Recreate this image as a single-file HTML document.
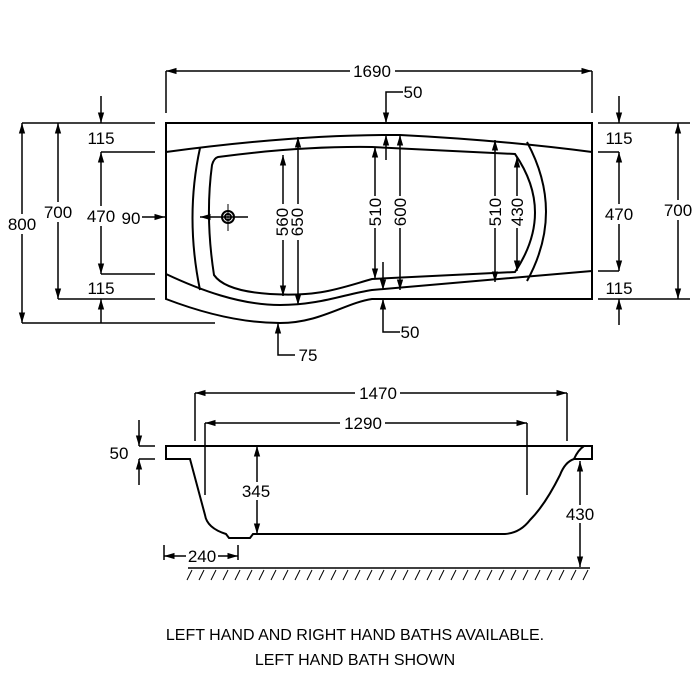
<!DOCTYPE html><html><head><style>body{margin:0;background:#fff}svg{display:block}</style></head><body>
<svg width="700" height="700" viewBox="0 0 700 700" xmlns="http://www.w3.org/2000/svg" font-family="Liberation Sans, sans-serif" font-size="17" fill="none" stroke="#000" stroke-width="2">
<defs><marker id="a" viewBox="0 0 10 10" refX="10" refY="5" markerWidth="7" markerHeight="7" orient="auto-start-reverse"><path d="M0,2 L10,5 L0,8z" fill="#000" stroke="none"/></marker></defs>
<!-- top view outline -->
<path d="M166,123 H592 V299 H372 C345,303 320,323 280,323 C240,323 200,312 166,299 Z"/>
<path d="M166,152 Q300,134 400,135 Q500,140 592,152"/>
<path d="M166,274 C200,290 240,305 280,305 C320,305 345,294 372,290 L592,271"/>
<path d="M218,157 Q300,146 372,147 L515,154 Q555,212 515,272 L372,279 C340,288 320,297 270,294 Q225,291 214,275 Q205,217 212,165 Q214,158 218,157 Z"/>
<path d="M200,148 Q185,217 200,290"/>
<path d="M527,142 Q565,212 527,281"/>
<circle cx="228" cy="217" r="6"/><circle cx="228" cy="217" r="3"/>
<path d="M228,204 V231 M215,217 H248" stroke-width="1"/>
<g stroke-width="1.5">
<path d="M166,113 V71 M592,113 V71"/><path d="M166,71 H592" marker-start="url(#a)" marker-end="url(#a)"/>
<path d="M22,123 H155 M22,323 H215 M58,299 H155 M101,152 H155 M101,274 H155"/>
<path d="M22,123 V323" marker-start="url(#a)" marker-end="url(#a)"/>
<path d="M58,123 V299" marker-start="url(#a)" marker-end="url(#a)"/>
<path d="M101,152 V274" marker-start="url(#a)" marker-end="url(#a)"/>
<path d="M101,96 V123" marker-end="url(#a)"/><path d="M101,323 V299" marker-end="url(#a)"/>
<path d="M142,217 H165" marker-end="url(#a)"/><path d="M248,217 H200" marker-end="url(#a)"/>
<path d="M598,123 H690 M598,299 H690 M598,152 H619 M598,271 H619"/>
<path d="M678,123 V299" marker-start="url(#a)" marker-end="url(#a)"/>
<path d="M619,152 V271" marker-start="url(#a)" marker-end="url(#a)"/>
<path d="M619,96 V123" marker-end="url(#a)"/><path d="M619,325 V299" marker-end="url(#a)"/>
<path d="M283,155 V296" marker-start="url(#a)" marker-end="url(#a)"/>
<path d="M298,137 V305" marker-start="url(#a)" marker-end="url(#a)"/>
<path d="M375,147 V279" marker-start="url(#a)" marker-end="url(#a)"/>
<path d="M400,135 V290" marker-start="url(#a)" marker-end="url(#a)"/>
<path d="M495,140 V282" marker-start="url(#a)" marker-end="url(#a)"/>
<path d="M517,157 V271" marker-start="url(#a)" marker-end="url(#a)"/>
<path d="M403,92 H386 V123" marker-end="url(#a)"/><path d="M386,160 V135" marker-end="url(#a)"/>
<path d="M383,262 V290" marker-end="url(#a)"/>
<path d="M400,332 H383 V299" marker-end="url(#a)"/>
<path d="M295,355 H278 V323" marker-end="url(#a)"/>
</g>
<g fill="#000" stroke="none" text-anchor="middle">
<rect x="350" y="62" width="45" height="18" fill="#fff"/>
<text x="372" y="77">1690</text>
<text x="413" y="98">50</text>
<text x="101" y="144">115</text><text x="101" y="294">115</text>
<rect x="86" y="206" width="30" height="20" fill="#fff"/><text x="101" y="222">470</text>
<rect x="43" y="202" width="30" height="20" fill="#fff"/><text x="58" y="218">700</text>
<rect x="5" y="214" width="34" height="20" fill="#fff"/><text x="22" y="230">800</text>
<text x="131" y="224">90</text>
<text x="619" y="144">115</text><text x="619" y="294">115</text>
<rect x="604" y="204" width="30" height="20" fill="#fff"/><text x="619" y="220">470</text>
<rect x="663" y="200" width="30" height="20" fill="#fff"/><text x="678" y="216">700</text>
<text x="410" y="338">50</text><text x="308" y="361">75</text>
<g transform="translate(290,222) rotate(-90)"><rect x="-18" y="-18" width="36" height="32" fill="#fff"/><text x="0" y="-2">560</text><text x="0" y="13">650</text></g>
<g transform="translate(387,212) rotate(-90)"><rect x="-16" y="-18" width="32" height="32" fill="#fff"/><text x="0" y="-6">510</text><text x="0" y="19">600</text></g>
<g transform="translate(505,212) rotate(-90)"><rect x="-16" y="-18" width="32" height="32" fill="#fff"/><text x="0" y="-4">510</text><text x="0" y="18">430</text></g>
</g>
<!-- side view -->
<path d="M166,446 H592 V459 H574 Q565,462 560,475 Q545,505 530,520 Q520,533 505,534 H253 L250,538 H229 L226,534 Q207,528 205,515 L190,459 H166 Z"/>
<path d="M574,459 Q578,450 584,446"/>
<g stroke-width="1.5">
<path d="M195,441 V393 M567,441 V393"/><path d="M195,393 H567" marker-start="url(#a)" marker-end="url(#a)"/>
<path d="M205,495 V423 M527,495 V423"/><path d="M205,423 H527" marker-start="url(#a)" marker-end="url(#a)"/>
<path d="M257,446 V534" marker-start="url(#a)" marker-end="url(#a)"/>
<path d="M580,461 V567" marker-start="url(#a)" marker-end="url(#a)"/>
<path d="M139,420 V446" marker-end="url(#a)"/><path d="M139,485 V459" marker-end="url(#a)"/>
<path d="M139,446 H155 M139,459 H155"/>
<path d="M164,545 V560 M238,545 V560"/><path d="M164,556 H238" marker-start="url(#a)" marker-end="url(#a)"/>
<path d="M188,568 H590"/>
<path d="M192,570 l-5,10 M204,570 l-5,10 M216,570 l-5,10 M228,570 l-5,10 M240,570 l-5,10 M252,570 l-5,10 M264,570 l-5,10 M276,570 l-5,10 M288,570 l-5,10 M300,570 l-5,10 M312,570 l-5,10 M324,570 l-5,10 M336,570 l-5,10 M348,570 l-5,10 M360,570 l-5,10 M372,570 l-5,10 M384,570 l-5,10 M396,570 l-5,10 M408,570 l-5,10 M420,570 l-5,10 M432,570 l-5,10 M444,570 l-5,10 M456,570 l-5,10 M468,570 l-5,10 M480,570 l-5,10 M492,570 l-5,10 M504,570 l-5,10 M516,570 l-5,10 M528,570 l-5,10 M540,570 l-5,10 M552,570 l-5,10 M564,570 l-5,10 M576,570 l-5,10 M588,570 l-5,10" stroke-width="1"/>
</g>
<g fill="#000" stroke="none" text-anchor="middle">
<rect x="355" y="384" width="45" height="18" fill="#fff"/><text x="378" y="399">1470</text>
<rect x="340" y="414" width="45" height="18" fill="#fff"/><text x="363" y="429">1290</text>
<rect x="240" y="482" width="34" height="18" fill="#fff"/><text x="256" y="497">345</text>
<rect x="563" y="505" width="34" height="18" fill="#fff"/><text x="580" y="520">430</text>
<text x="119" y="459">50</text>
<rect x="186" y="547" width="32" height="18" fill="#fff"/><text x="202" y="562">240</text>
<text x="355" y="640" font-size="16">LEFT HAND AND RIGHT HAND BATHS AVAILABLE.</text>
<text x="355" y="665" font-size="16">LEFT HAND BATH SHOWN</text>
</g>
</svg></body></html>
